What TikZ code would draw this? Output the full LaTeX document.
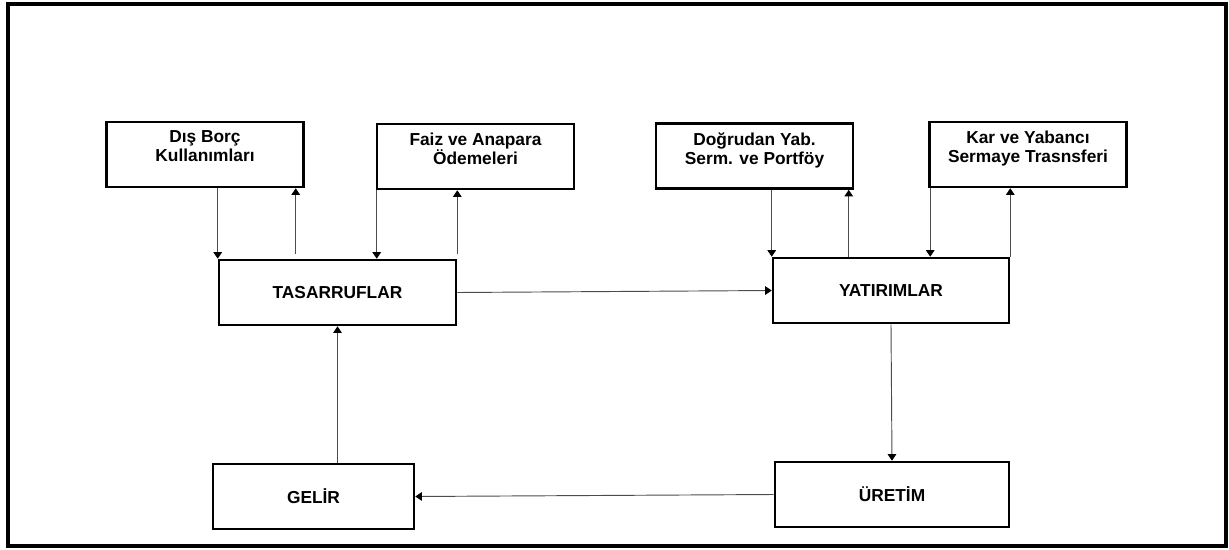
\documentclass[tikz,border=0pt]{standalone}
\usepackage{fontspec}
\setmainfont{Liberation Sans}
\usetikzlibrary{arrows.meta}

\begin{document}
\begin{tikzpicture}[
  x=0.75pt,y=-0.75pt,
  font=\bfseries\fontsize{13}{14.3}\selectfont,
  frame/.style={line width=3pt},
  box/.style={draw,line width=1.9pt,inner sep=0pt,minimum height=48.75pt},
  topbox/.style={box,minimum width=147.75pt},
  boxtext/.style={anchor=north,yshift=-7.5pt,inner sep=0pt,align=center},
  link/.style={draw=black!70,line width=0.7pt,
    -{Triangle[length=5pt,width=6.5pt,color=black]}}]
  \useasboundingbox (0,0) rectangle (1229,550);
  \draw[frame] (8,4) rectangle (1226,546);
  % top row
  \node[topbox,label={[name=borctxt,boxtext]north:{Dış Borç\\Kullanımları}}] (borc) at (205,154.5) {};
  \node[topbox,label={[name=faiztxt,boxtext]north:{Faiz ve Anapara\\Ödemeleri}}] (faiz) at (475.5,156.5) {};
  \node[topbox,label={[name=dogrutxt,boxtext]north:{Doğrudan Yab.\\Serm. ve Portföy}}] (dogru) at (754.5,156) {};
  \node[topbox,label={[name=kartxt,boxtext]north:{Kar ve Yabancı\\Sermaye Trasnsferi}}] (kar) at (1028,154.5) {};
  % main cycle
  \node[box,minimum width=177.75pt] (tas) at (337.5,292.5) {TASARRUFLAR};
  \node[box,minimum width=177pt] (yat) at (891,290.5) {YATIRIMLAR};
  \node[box,minimum width=150.75pt] (gelir) at (313.5,496.5) {GELİR};
  \node[box,minimum width=175.5pt] (uretim) at (892,494.5) {ÜRETİM};
  % flows between the top row and the cycle
  \draw[link] (borc.south -| tas.north west) -- (tas.north west);
  \draw[link] ([shift={(78,-5)}]tas.north west) coordinate (b1) -- (b1 |- borc.south);
  \draw[link] ([xshift=0.75pt]faiz.south west) coordinate (f1) -- (f1 |- tas.north);
  \draw[link] ([yshift=3.75pt]tas.north east) coordinate (f2) -- (f2 |- faiz.south);
  \draw[link] (dogru.south -| yat.north west) -- (yat.north west);
  \draw[link] ([xshift=57.75pt]yat.north west) coordinate (d1) -- (d1 |- dogru.south);
  \draw[link] ([xshift=1.5pt]kar.south west) coordinate (k1) -- (k1 |- yat.north);
  \draw[link] (yat.north east) -- (yat.north east |- kar.south);
  % cycle
  \draw[link] (tas.east) -- (yat.west);
  \draw[link] (yat.south) -- (uretim.north);
  \draw[link] (uretim.west) -- (gelir.east);
  \draw[link] (tas.south |- gelir.north) -- (tas.south);
\end{tikzpicture}
\end{document}
